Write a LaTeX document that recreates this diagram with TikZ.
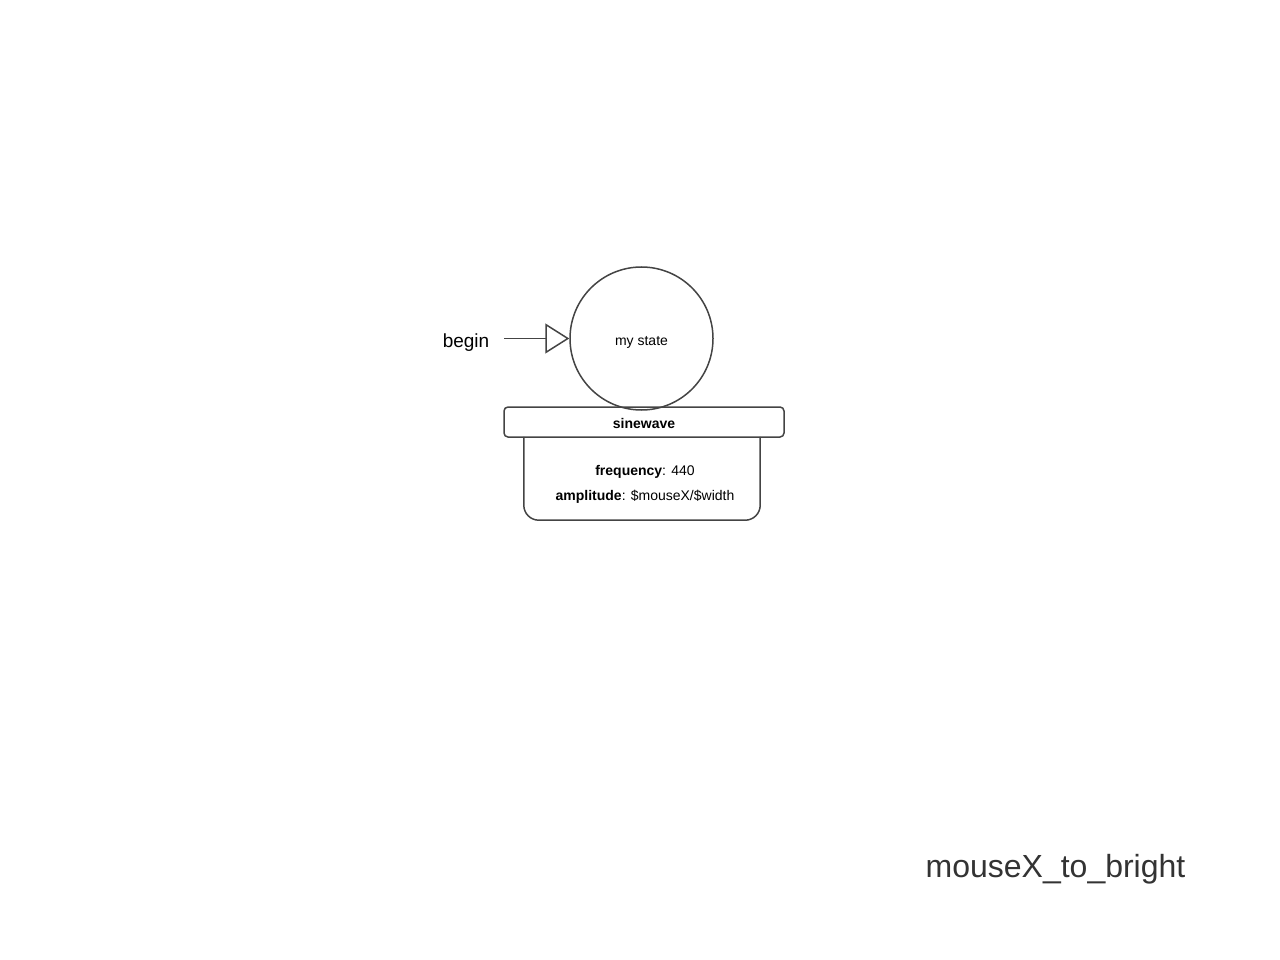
\documentclass[tikz,border=0pt]{standalone}
\usepackage{fontspec}
\setmainfont{Liberation Sans}
\usetikzlibrary{arrows.meta}
\definecolor{linegray}{HTML}{444444}
\definecolor{titlegray}{HTML}{333333}
\tikzset{
  statecircle/.style={circle, draw=linegray, line width=1.5pt, minimum size=143pt, inner sep=0pt, text height=13pt, text depth=0pt, font=\fontsize{14}{16}\selectfont},
  effectbar/.style={draw=linegray, line width=1.5pt, rounded corners=4pt, minimum width=280pt, minimum height=30pt, inner sep=0pt, text height=12pt, text depth=0pt, font=\bfseries\fontsize{14}{16}\selectfont},
  effectbody/.style={minimum width=236pt, minimum height=83pt, inner sep=0pt},
  paramtext/.style={font=\fontsize{14}{16}\selectfont},
  entry/.style={draw=linegray, line width=1.5pt, -{Triangle[open, length=24pt, width=30pt]}}
}
\begin{document}
\begin{tikzpicture}[x=1pt, y=-1pt]
	\useasboundingbox (0,0) rectangle (1280,960);
	\node[statecircle] (state) at (641.5,338.5) {my state};
	\node[font=\fontsize{19}{22}\selectfont] (begin) at (466,343) {begin};
	\coordinate (entry) at (504,338.5);
	\draw[entry] (entry) -- (state.west);
	\node[effectbar] (sinewave) at (644,422) {sinewave};
	\node[effectbody] (body) at (642,478.5) {};
	\draw[linegray, line width=1.5pt, rounded corners=15pt] (body.north west) -- (body.south west) -- (body.south east) -- (body.north east);
	\node[paramtext] (freq) at (645,472) {\textbf{frequency}: 440};
	\node[paramtext] (amp) at (645,497) {\textbf{amplitude}: \$mouseX/\$width};
	\node[font=\fontsize{32}{38}\selectfont, text=titlegray] (title) at (1055.5,869) {mouseX\_to\_bright};
\end{tikzpicture}
\end{document}
